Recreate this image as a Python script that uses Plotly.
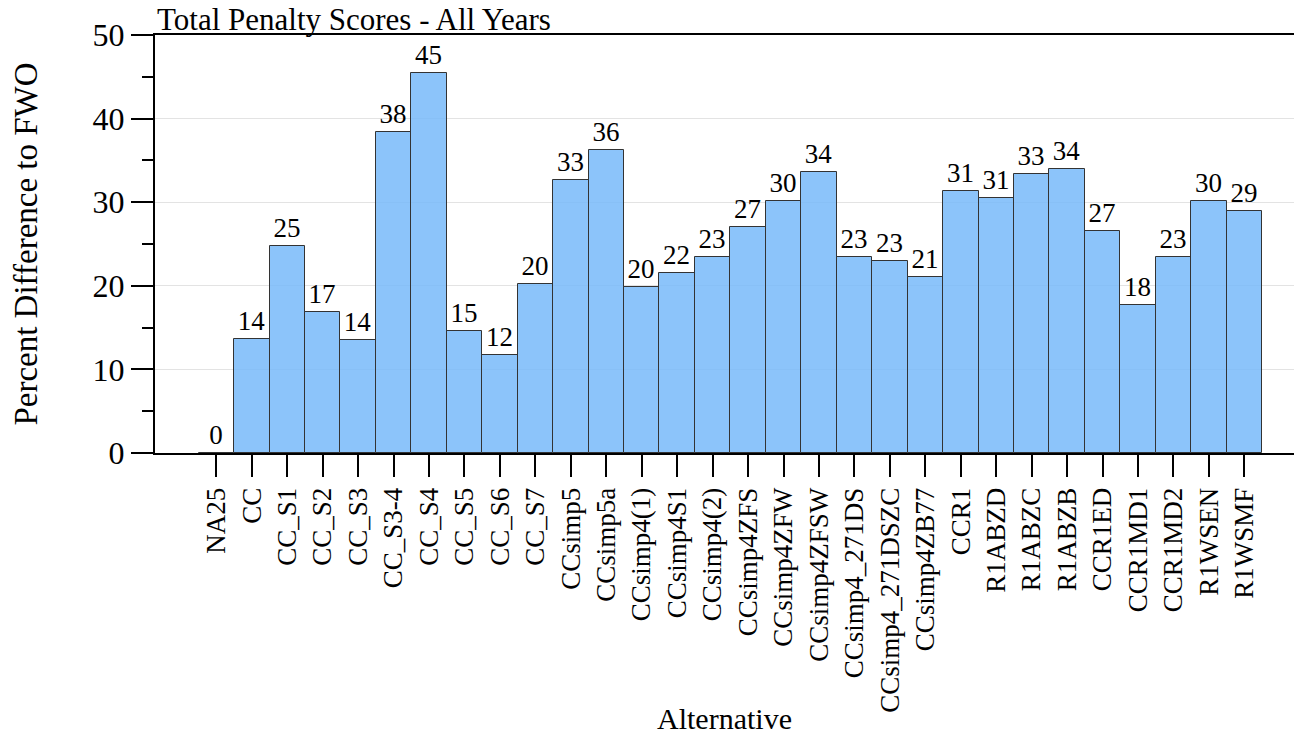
import plotly.graph_objects as go

categories = ["NA25", "CC", "CC_S1", "CC_S2", "CC_S3", "CC_S3-4", "CC_S4", "CC_S5", "CC_S6", "CC_S7",
              "CCsimp5", "CCsimp5a", "CCsimp4(1)", "CCsimp4S1", "CCsimp4(2)", "CCsimp4ZFS", "CCsimp4ZFW",
              "CCsimp4ZFSW", "CCsimp4_271DS", "CCsimp4_271DSZC", "CCsimp4ZB77", "CCR1", "R1ABZD", "R1ABZC",
              "R1ABZB", "CCR1ED", "CCR1MD1", "CCR1MD2", "R1WSEN", "R1WSMF"]
values = [0, 13.6, 24.8, 16.9, 13.52, 38.4, 45.4, 14.55, 11.7, 20.25,
          32.6, 36.2, 19.9, 21.55, 23.4, 27.0, 30.1, 33.6, 23.4, 23.0,
          21.1, 31.3, 30.55, 33.35, 34.0, 26.55, 17.7, 23.4, 30.1, 29.0]
y_ticks = [0, 10, 20, 30, 40, 50]

FONT = "Liberation Serif"

fig = go.Figure()
fig.add_trace(go.Bar(
    x=categories, y=values,
    marker=dict(color="rgba(120,186,249,0.85)", line=dict(color="#333333", width=1)),
    texttemplate="%{y:.0f}", textposition="outside", constraintext="none",
    textfont=dict(family=FONT, size=27, color="black"),
    cliponaxis=False,
))

fig.update_layout(
    width=1294, height=737,
    margin=dict(l=155, r=0, t=35, b=284, autoexpand=False),
    plot_bgcolor="white", paper_bgcolor="white",
    bargap=0, showlegend=False,
    font=dict(family=FONT, color="black"),
    annotations=[
        dict(text="Total Penalty Scores - All Years", xref="paper", yref="paper",
             x=0, y=1, xanchor="left", yanchor="top", yshift=35, showarrow=False,
             font=dict(family=FONT, size=31, color="black")),
        dict(text="Alternative", xref="paper", yref="paper",
             x=0.5, y=0, xanchor="center", yanchor="top", yshift=-247, showarrow=False,
             font=dict(family=FONT, size=30, color="black")),
    ],
)
fig.update_xaxes(
    type="category", range=[-1.73, 30.4],
    showline=True, linecolor="black", linewidth=2, mirror=True,
    ticks="outside", ticklen=22, tickwidth=2, tickcolor="black",
    tickangle=-90, tickfont=dict(family=FONT, size=27, color="black"),
    showgrid=False, automargin=False,
)
fig.update_yaxes(
    range=[0, 50], tickvals=y_ticks,
    showline=True, linecolor="black", linewidth=2,
    ticks="outside", ticklen=22, tickwidth=2, tickcolor="black",
    tickfont=dict(family=FONT, size=32, color="black"),
    showgrid=True, gridcolor="#e3e3e3", gridwidth=1, zeroline=False,
    minor=dict(ticks="outside", ticklen=11, tickwidth=2, tickcolor="black", dtick=5, showgrid=False),
    title=dict(text="Percent Difference to FWO", font=dict(family=FONT, size=33, color="black"), standoff=45),
    automargin=False,
)

fig.write_html("out.html", config={"displayModeBar": False},
               post_script="document.body.style.margin='0';")
